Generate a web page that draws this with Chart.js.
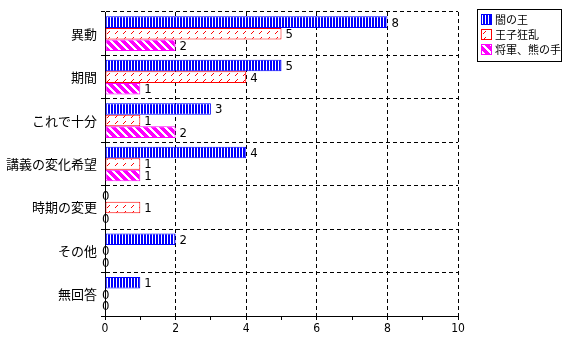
<!DOCTYPE html>
<html>
<head>
<meta charset="utf-8">
<script src="https://cdn.jsdelivr.net/npm/chart.js@4"></script>
<style>
  html, body { margin: 0; padding: 0; background: #fff; }
  #wrap { width: 567px; height: 340px; position: relative; }
</style>
</head>
<body>
<div id="wrap"><canvas id="chart" width="567" height="340"></canvas></div>
<script>
// データ
var categories = ['異動', '期間', 'これで十分', '講義の変化希望', '時期の変更', 'その他', '無回答'];
var seriesNames = ['闇の王', '王子狂乱', '将軍、熊の手'];
var darkKing   = [8, 5, 3, 4, 0, 2, 1];
var princeMad  = [5, 4, 1, 1, 1, 0, 0];
var generalBear = [2, 1, 2, 1, 0, 0, 0];
var xTicks = [0, 2, 4, 6, 8, 10];

var NUM_FONT = "'Liberation Sans Narrow', 'DejaVu Sans Condensed', sans-serif";
var JP_FONT  = "'Noto Sans CJK JP', sans-serif";

var canvas = document.getElementById('chart');
var ctx = canvas.getContext('2d');

// 塗りパターン
function makePattern(w, h, color, draw) {
    var c = document.createElement('canvas');
    c.width = w; c.height = h;
    var g = c.getContext('2d');
    g.fillStyle = '#fff';
    g.fillRect(0, 0, w, h);
    g.fillStyle = color;
    draw(g);
    return ctx.createPattern(c, 'repeat');
}

var blueFill = makePattern(3, 1, '#0000ff', function (g) {
    g.fillRect(0, 0, 2, 1);
});
var redFill = makePattern(8, 6, '#ff0000', function (g) {
    g.fillRect(5, 1, 1, 1);
    g.fillRect(4, 2, 1, 1);
    g.fillRect(3, 3, 1, 1);
});
var magentaFill = makePattern(8, 8, '#ff00ff', function (g) {
    for (var y = 0; y < 8; y++) {
        for (var k = 0; k < 5; k++) {
            g.fillRect((y + k) % 8, y, 1, 1);
        }
    }
});

var fills   = [blueFill, redFill, magentaFill];
var borders = ['#0000ff', '#ff0000', '#ff00ff'];

// 数値ラベル
var valueLabels = {
    id: 'valueLabels',
    afterDatasetsDraw: function (chart) {
        var c = chart.ctx;
        c.save();
        c.font = '13px ' + NUM_FONT;
        c.fillStyle = '#000';
        c.textBaseline = 'middle';
        c.textAlign = 'left';
        chart.data.datasets.forEach(function (ds, i) {
            var meta = chart.getDatasetMeta(i);
            meta.data.forEach(function (el, j) {
                var v = ds.data[j];
                var x = v ? el.x + 4 : el.x - 3;
                c.fillText(String(v), x, el.y + 1);
            });
        });
        c.restore();
    }
};

// 凡例（枠付き）
var boxLegend = {
    id: 'boxLegend',
    afterDraw: function (chart) {
        var c = chart.ctx;
        var bx = 477, by = 9, bw = 84, bh = 52;
        c.save();
        c.strokeStyle = '#000';
        c.lineWidth = 1;
        c.strokeRect(bx + 0.5, by + 0.5, bw, bh);
        c.font = '11px ' + JP_FONT;
        c.textBaseline = 'middle';
        seriesNames.forEach(function (name, i) {
            var sy = by + 5 + i * 15;
            c.fillStyle = fills[i];
            c.fillRect(bx + 4, sy, 11, 11);
            c.strokeStyle = borders[i];
            c.strokeRect(bx + 4.5, sy + 0.5, 10, 10);
            c.fillStyle = '#000';
            c.fillText(name, bx + 18, sy + 6);
        });
        c.restore();
    }
};

var seriesData = [darkKing, princeMad, generalBear];

new Chart(canvas, {
    type: 'bar',
    data: {
        labels: categories,
        datasets: seriesData.map(function (d, i) {
            return {
                label: seriesNames[i],
                data: d,
                backgroundColor: fills[i],
                borderColor: borders[i],
                borderWidth: 1,
                borderSkipped: false,
                categoryPercentage: 0.8,
                barPercentage: 1.0
            };
        })
    },
    options: {
        indexAxis: 'y',
        responsive: false,
        animation: false,
        layout: { padding: { top: 12, right: 109, left: 0, bottom: 0 } },
        plugins: {
            legend: { display: false },
            tooltip: { enabled: false }
        },
        scales: {
            x: {
                min: 0,
                max: 10,
                afterBuildTicks: function (s) {
                    var t = [];
                    for (var v = 0; v <= 10; v++) t.push({ value: v });
                    s.ticks = t;
                },
                ticks: {
                    autoSkip: false,
                    maxRotation: 0,
                    color: '#000',
                    padding: 2,
                    font: { family: NUM_FONT, size: 12 },
                    callback: function (v) {
                        return xTicks.indexOf(v) >= 0 ? String(v) : '';
                    }
                },
                grid: {
                    color: function (ctx) {
                        var v = ctx.tick ? ctx.tick.value : -1;
                        return (v > 0 && v % 2 === 0) ? '#000' : 'rgba(0,0,0,0)';
                    },
                    tickColor: '#000',
                    tickLength: 4,
                    lineWidth: 1
                },
                border: { display: true, color: '#000', width: 1, dash: [4, 3] },
                afterFit: function (s) { s.height = 24; }
            },
            y: {
                ticks: {
                    color: '#000',
                    padding: 4,
                    font: { family: JP_FONT, size: 13 }
                },
                grid: {
                    offset: true,
                    color: '#000',
                    tickColor: '#000',
                    tickLength: 4,
                    lineWidth: 1
                },
                border: { display: true, color: '#000', width: 1, dash: [4, 3] },
                afterFit: function (s) { s.width = 105; }
            }
        }
    },
    plugins: [valueLabels, boxLegend]
});
</script>
</body>
</html>
